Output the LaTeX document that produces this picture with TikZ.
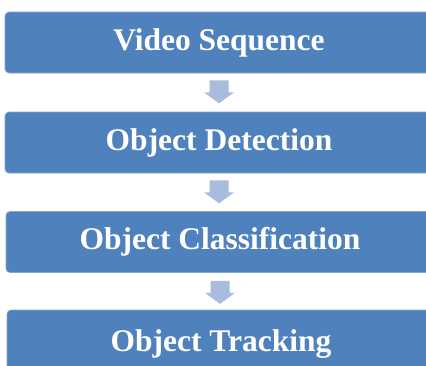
\documentclass[tikz,border=0pt]{standalone}
\usepackage{fontspec}
\setmainfont{Liberation Serif}
\usetikzlibrary{calc}
\definecolor{boxblue}{HTML}{4F81BD}
\definecolor{arrowblue}{HTML}{A9BCDD}
\tikzset{
  stagebox/.style={fill=boxblue, draw=boxblue!70!white, line width=0.6pt, rounded corners=4pt,
    minimum width=428pt, minimum height=61pt, inner sep=0pt,
    text=white, font=\fontsize{31.5}{32}\selectfont\bfseries},
  flowarrow/.style={fill=arrowblue, draw=none}
}
\newcommand{\downarrowshape}[1]{%
  \fill[flowarrow] ($(#1)+(-9.5,0)$) -- ($(#1)+(9.5,0)$) -- ($(#1)+(9.5,-12)$) -- ($(#1)+(15,-12)$)
    -- ($(#1)+(0,-23)$) -- ($(#1)+(-15,-12)$) -- ($(#1)+(-9.5,-12)$) -- cycle;}
\begin{document}
\begin{tikzpicture}[x=1pt,y=1pt]
\useasboundingbox (0,0) rectangle (426,-365);
\fill[white] (0,0) rectangle (426,-365);
\node[stagebox] (b1) at (219,-42.5) {Video Sequence};
\node[stagebox] (b2) at (219,-142.5) {Object Detection};
\node[stagebox] (b3) at (220,-242) {Object Classification};
\node[stagebox, minimum height=68pt] (b4) at (221,-344) {Object Tracking};
\coordinate (a1) at ($(b1.south)+(0,-7)$);
\coordinate (a2) at ($(b2.south)+(0,-7)$);
\coordinate (a3) at ($(b3.south)+(0,-8)$);
\downarrowshape{a1}
\downarrowshape{a2}
\downarrowshape{a3}
\end{tikzpicture}
\end{document}
